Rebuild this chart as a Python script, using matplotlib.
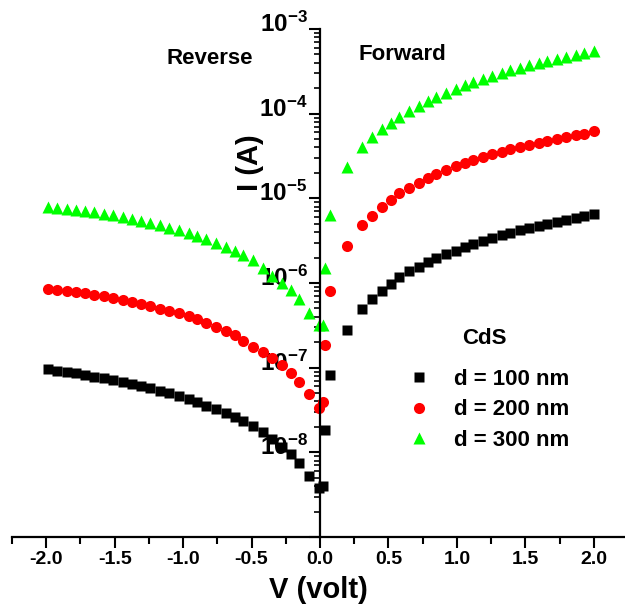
import matplotlib
matplotlib.use('Agg')
import matplotlib.pyplot as plt
import matplotlib.transforms as mtransforms
from matplotlib.ticker import MultipleLocator, FormatStrFormatter, FixedLocator, FuncFormatter, LogLocator, NullFormatter

plt.rcParams['font.family'] = ['Liberation Sans', 'DejaVu Sans']
plt.rcParams['font.weight'] = 'bold'
plt.rcParams['axes.unicode_minus'] = False
plt.rcParams['mathtext.fontset'] = 'custom'
plt.rcParams['mathtext.rm'] = 'Liberation Sans:bold'
plt.rcParams['mathtext.it'] = 'Liberation Sans:bold:italic'
plt.rcParams['mathtext.bf'] = 'Liberation Sans:bold'

# ---- data ----
V_rev = [-1.99, -1.92, -1.85, -1.78, -1.72, -1.65, -1.58, -1.51, -1.44, -1.37,
         -1.31, -1.24, -1.17, -1.10, -1.03, -0.96, -0.90, -0.83, -0.76, -0.69,
         -0.62, -0.56, -0.49, -0.42, -0.35, -0.28, -0.21, -0.15, -0.08, -0.01]
V_near = [0.025, 0.035, 0.07, 0.20]
V_fwd = [0.31, 0.38, 0.45, 0.52, 0.58, 0.65, 0.72, 0.79, 0.85, 0.92,
         0.99, 1.06, 1.12, 1.19, 1.26, 1.33, 1.39, 1.46, 1.53, 1.60,
         1.66, 1.73, 1.80, 1.87, 1.93, 2.00]
V = V_rev + V_near + V_fwd

I_100 = [9.6e-8, 9.24e-8, 8.91e-8, 8.61e-8, 8.22e-8, 7.85e-8, 7.52e-8, 7.18e-8, 6.80e-8, 6.44e-8,
         6.10e-8, 5.73e-8, 5.37e-8, 5.00e-8, 4.65e-8, 4.29e-8, 3.95e-8, 3.57e-8, 3.24e-8, 2.90e-8,
         2.59e-8, 2.32e-8, 2.03e-8, 1.76e-8, 1.43e-8, 1.17e-8, 9.6e-9, 7.58e-9, 5.32e-9, 3.78e-9,
         4.02e-9, 1.84e-8, 8.22e-8, 2.79e-7,
         4.94e-7, 6.49e-7, 8.07e-7, 9.76e-7, 1.17e-6, 1.38e-6, 1.56e-6, 1.76e-6, 1.96e-6, 2.19e-6,
         2.41e-6, 2.65e-6, 2.90e-6, 3.14e-6, 3.41e-6, 3.67e-6, 3.94e-6, 4.20e-6, 4.47e-6, 4.76e-6,
         5.03e-6, 5.31e-6, 5.61e-6, 5.87e-6, 6.20e-6, 6.49e-6]

I_200 = [8.45e-7, 8.29e-7, 8.07e-7, 7.79e-7, 7.58e-7, 7.30e-7, 6.99e-7, 6.67e-7, 6.31e-7, 5.98e-7,
         5.66e-7, 5.37e-7, 4.99e-7, 4.69e-7, 4.40e-7, 4.09e-7, 3.77e-7, 3.41e-7, 3.05e-7, 2.74e-7,
         2.42e-7, 2.07e-7, 1.77e-7, 1.55e-7, 1.29e-7, 1.08e-7, 8.75e-8, 6.85e-8, 4.86e-8, 3.33e-8,
         3.98e-8, 1.86e-7, 8.07e-7, 2.74e-6,
         4.85e-6, 6.25e-6, 7.85e-6, 9.57e-6, 1.15e-5, 1.33e-5, 1.52e-5, 1.72e-5, 1.94e-5, 2.19e-5,
         2.41e-5, 2.62e-5, 2.84e-5, 3.08e-5, 3.30e-5, 3.53e-5, 3.78e-5, 4.05e-5, 4.27e-5, 4.51e-5,
         4.76e-5, 5.03e-5, 5.26e-5, 5.53e-5, 5.81e-5, 6.17e-5]

I_300 = [7.98e-6, 7.76e-6, 7.55e-6, 7.35e-6, 7.10e-6, 6.85e-6, 6.59e-6, 6.31e-6, 5.98e-6, 5.66e-6,
         5.37e-6, 5.08e-6, 4.81e-6, 4.51e-6, 4.24e-6, 3.94e-6, 3.63e-6, 3.29e-6, 3.00e-6, 2.69e-6,
         2.41e-6, 2.15e-6, 1.87e-6, 1.49e-6, 1.21e-6, 1.01e-6, 8.3e-7, 6.44e-7, 4.47e-7, 3.20e-7,
         3.20e-7, 1.50e-6, 6.37e-6, 2.35e-5,
         4.07e-5, 5.26e-5, 6.54e-5, 7.83e-5, 9.22e-5, 1.085e-4, 1.24e-4, 1.41e-4, 1.59e-4, 1.77e-4,
         1.96e-4, 2.16e-4, 2.37e-4, 2.57e-4, 2.79e-4, 3.03e-4, 3.25e-4, 3.49e-4, 3.73e-4, 3.97e-4,
         4.22e-4, 4.46e-4, 4.71e-4, 4.97e-4, 5.25e-4, 5.5e-4]

labels = ['d = 100 nm', 'd = 200 nm', 'd = 300 nm']
x_ticks = [-2.0, -1.5, -1.0, -0.5, 0.0, 0.5, 1.0, 1.5, 2.0]
y_ticks = [1e-9, 1e-8, 1e-7, 1e-6, 1e-5, 1e-4, 1e-3]

W, H = 625, 607
def fx(px):
    return px / W
def fy(py):
    return 1 - py / H

fig = plt.figure(figsize=(W / 100, H / 100), dpi=100)
ax = fig.add_axes([fx(12), fy(537), (628 - 12) / W, (537 - 29) / H])
ax.set_yscale('log')
ax.set_xlim(-2.25, 2.25)
ax.set_ylim(1e-9, 1e-3)

l1, = ax.plot(V, I_100, linestyle='none', marker='s', ms=6.5, color='black', mec='none', label=labels[0])
l2, = ax.plot(V, I_200, linestyle='none', marker='o', ms=8, color='#ff0000', mec='none', label=labels[1])
l3, = ax.plot(V, I_300, linestyle='none', marker='^', ms=9, color='#00ff00', mec='none', label=labels[2])

for s in ['top', 'right']:
    ax.spines[s].set_visible(False)
ax.spines['left'].set_position(('data', 0))
ax.spines['left'].set_linewidth(1.6)
ax.spines['bottom'].set_linewidth(1.6)

ax.xaxis.set_major_locator(FixedLocator(x_ticks))
ax.xaxis.set_minor_locator(MultipleLocator(0.25))
ax.xaxis.set_major_formatter(FormatStrFormatter('%.1f'))
ax.tick_params(axis='x', which='major', direction='out', length=8, width=1.5, labelsize=14, pad=2)
ax.tick_params(axis='x', which='minor', direction='out', length=5, width=1.5)

ax.yaxis.set_major_locator(FixedLocator(y_ticks))
ax.yaxis.set_minor_locator(LogLocator(base=10, subs=range(2, 10), numticks=20))
ax.yaxis.set_minor_formatter(NullFormatter())
def yfmt(v, pos):
    import math
    e = int(round(math.log10(v)))
    if e == -9:
        return ''
    return r'$10^{%d}$' % e
ax.yaxis.set_major_formatter(FuncFormatter(yfmt))
ax.tick_params(axis='y', which='major', direction='out', length=8, width=1.5, labelsize=17.5, pad=1)
ax.tick_params(axis='y', which='minor', direction='out', length=4.5, width=1.2)
shift = mtransforms.ScaledTranslation(0, -3 / 100, fig.dpi_scale_trans)
for t in ax.yaxis.get_major_ticks():
    t.label1.set_va('baseline')
    t.label1.set_transform(t.label1.get_transform() + shift)

fig.text(fx(250), fy(163), 'I (A)', rotation=90, ha='center', va='center', fontsize=21, fontweight='bold')
fig.text(fx(318), fy(590), 'V (volt)', ha='center', va='center', fontsize=21, fontweight='bold')
fig.text(fx(210), fy(59), 'Reverse', ha='center', va='center', fontsize=16, fontweight='bold')
fig.text(fx(402), fy(55), 'Forward', ha='center', va='center', fontsize=16, fontweight='bold')
fig.text(fx(484), fy(338), 'CdS', ha='center', va='center', fontsize=16, fontweight='bold')

ax.legend(handles=[l1, l2, l3], loc='upper left', bbox_to_anchor=(fx(408), fy(369)),
          bbox_transform=fig.transFigure, frameon=False, borderpad=0, borderaxespad=0,
          handlelength=1.0, handletextpad=1.05, labelspacing=0.42,
          prop={'weight': 'bold', 'size': 16})

fig.savefig('out.png', dpi=100)
